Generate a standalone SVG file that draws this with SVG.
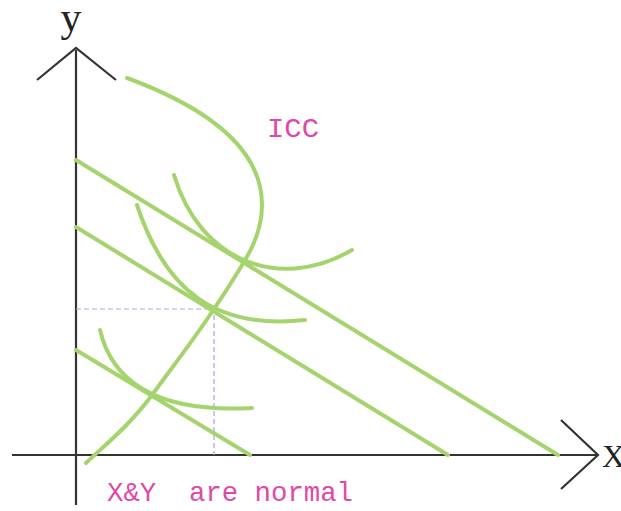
<svg xmlns="http://www.w3.org/2000/svg" width="621" height="511" viewBox="0 0 621 511">
<style>
.axis{stroke:#333;stroke-width:2.2;fill:none}
.g{stroke:#a5d46e;stroke-width:4;fill:none;stroke-linecap:round}
.d{stroke:#a9a4e6;stroke-width:1.2;stroke-dasharray:5 3;fill:none}
.lbl{font-family:"Liberation Mono",monospace;font-size:28px;fill:#e048a8}
.ax{font-family:"Liberation Serif",serif;fill:#222}
</style>
<rect width="621" height="511" fill="#fff"/>
<g id="axes">
<path class="axis" d="M76,50 V505 M37,80 L76,48 L116,80"/>
<path class="axis" d="M12,455 H598 M561,420 L598,455 L561,489"/>
<text class="ax" x="71" y="31" font-size="42" text-anchor="middle">y</text>
<text class="ax" x="602" y="467" font-size="32">X</text>
</g>
<g id="guides">
<path class="d" d="M76,309 H214 V455"/>
</g>
<g id="connectors">
<path id="budget1" class="g" d="M76,350 L250,455"/>
<path id="budget2" class="g" d="M76,227 L448,455"/>
<path id="budget3" class="g" d="M76,160 L558,455"/>
</g>
<g id="ic1"><path class="g" d="M100,330 Q120,415 252,408"/></g>
<g id="ic2"><path class="g" d="M137,205 C165,290 215,330 305,320"/></g>
<g id="ic3"><path class="g" d="M174,175 C200,262 280,292 352,250"/></g>
<g id="icc">
<path class="g" d="M127,78 C200,105 262,145 262,205 C262,235 250,255 214,309 C190,345 170,370 152,395 C130,425 105,445 86,463"/>
<text class="lbl" x="267" y="137" textLength="52" lengthAdjust="spacingAndGlyphs">ICC</text>
</g>
<g id="note">
<text class="lbl" x="107" y="501" textLength="246" lengthAdjust="spacingAndGlyphs" xml:space="preserve">X&amp;Y  are normal</text>
</g>
</svg>
